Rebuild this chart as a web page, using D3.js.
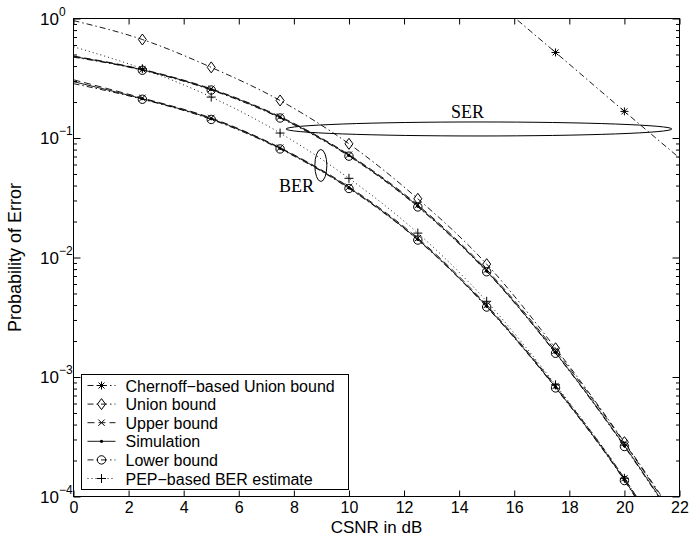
<!DOCTYPE html>
<html>
<head>
<meta charset="utf-8">
<script src="https://cdn.jsdelivr.net/npm/d3@7"></script>
<style>
  body { margin: 0; background: #fff; }
  svg { display: block; font-family: "Liberation Sans", Arial, sans-serif; }
  .tick line { stroke: #000; }
  .tick text { font-size: 16px; fill: #000; }
</style>
</head>
<body>
<svg id="chart" width="700" height="538"></svg>
<script>
const xs = [0, 2.5, 5, 7.5, 10, 12.5, 15, 17.5, 20, 22];
const markerXs = [2.5, 5, 7.5, 10, 12.5, 15, 17.5, 20];

// SER group
const unionBound   = [0.96, 0.667, 0.39, 0.206, 0.0894, 0.031, 0.0088, 0.00174, 0.000285, 0.00006];
const serUpper     = [0.485, 0.375, 0.258, 0.151, 0.0725, 0.0275, 0.0079, 0.00166, 0.000280, 0.000058];
const serSim       = [0.48, 0.372, 0.255, 0.149, 0.0714, 0.0269, 0.0077, 0.00160, 0.000267, 0.000055];
const serLower     = [0.475, 0.369, 0.252, 0.147, 0.0705, 0.0265, 0.0076, 0.00158, 0.000262, 0.000054];

// BER group
const berUpper     = [0.307, 0.216, 0.147, 0.083, 0.0390, 0.0145, 0.0040, 0.00084, 0.000142, 0.000026];
const berSim       = [0.296, 0.213, 0.145, 0.082, 0.0383, 0.01415, 0.0039, 0.00082, 0.000138, 0.000025];
const berLower     = [0.285, 0.211, 0.143, 0.081, 0.0378, 0.0140, 0.00385, 0.00081, 0.000136, 0.0000245];
const pepEstimate  = [0.58, 0.38, 0.22, 0.11, 0.046, 0.016, 0.0043, 0.00086, 0.000142, 0.000026];

// Chernoff-based union bound (only visible at high CSNR)
const chernoffXs   = [15, 17.5, 20, 22];
const chernoff     = [1.6, 0.52, 0.167, 0.068];

const xTicks = [0, 2, 4, 6, 8, 10, 12, 14, 16, 18, 20, 22];
const yDecades = [1e-4, 1e-3, 1e-2, 1e-1, 1];
const yExponents = ["−4", "−3", "−2", "−1", "0"];

const legendLabels = [
    "Chernoff−based Union bound",
    "Union bound",
    "Upper bound",
    "Simulation",
    "Lower bound",
    "PEP−based BER estimate"
];

const DASHDOT = "6,3,1.5,3";
const DASHED = "7,4";
const DOTTED = "1,3";

const svg = d3.select("#chart");
const mLeft = 73.5, mTop = 18.5, mRight = 679.5, mBottom = 496.5;
const iw = mRight - mLeft, ih = mBottom - mTop;

const x = d3.scaleLinear().domain([0, 22]).range([0, iw]);
const y = d3.scaleLog().domain([1e-4, 1]).range([ih, 0]);

const g = svg.append("g").attr("transform", `translate(${mLeft},${mTop})`);

g.append("defs").append("clipPath").attr("id", "plotClip")
    .append("rect").attr("width", iw).attr("height", ih);

// Axes: ticks pointing inward on all four sides
const xAxisB = d3.axisBottom(x).tickValues(xTicks).tickSizeInner(-6).tickSizeOuter(0).tickPadding(5)
    .tickFormat(d3.format("d"));
g.append("g").attr("transform", `translate(0,${ih})`).call(xAxisB)
    .call(a => a.select(".domain").remove());

g.append("g").call(d3.axisTop(x).tickValues(xTicks).tickSizeInner(-6).tickSizeOuter(0).tickFormat(""))
    .call(a => a.select(".domain").remove());

const minors = [];
yDecades.slice(0, -1).forEach(dec => {
    for (let k = 2; k <= 9; k++) minors.push(dec * k);
});

[["left", 0], ["right", iw]].forEach(([side, px]) => {
    const make = side === "left" ? d3.axisLeft : d3.axisRight;
    g.append("g").attr("transform", `translate(${px},0)`)
        .call(make(y).tickValues(yDecades).tickSizeInner(-7).tickSizeOuter(0).tickFormat(""))
        .call(a => a.select(".domain").remove());
    g.append("g").attr("transform", `translate(${px},0)`)
        .call(make(y).tickValues(minors).tickSizeInner(-3.5).tickSizeOuter(0).tickFormat(""))
        .call(a => a.select(".domain").remove());
});

// y tick labels as 10^n
const yLab = g.append("g");
yDecades.forEach((d, i) => {
    const t = yLab.append("text")
        .attr("x", -33.5)
        .attr("y", y(d) + 6)
        .attr("font-size", 17);
    t.append("tspan").text("10");
    t.append("tspan").attr("font-size", 12).attr("dy", -9).text(yExponents[i]);
});

// frame
g.append("rect").attr("width", iw).attr("height", ih)
    .attr("fill", "none").attr("stroke", "#000").attr("stroke-width", 1);

// Axis titles
svg.append("text").attr("x", mLeft + iw / 2).attr("y", 533)
    .attr("text-anchor", "middle").attr("font-size", 17).text("CSNR in dB");
svg.append("text").attr("transform", `translate(21,${mTop + ih / 2}) rotate(-90)`)
    .attr("text-anchor", "middle").attr("font-size", 18).text("Probability of Error");

// Curves
const plot = g.append("g").attr("clip-path", "url(#plotClip)");
const line = d3.line().x(d => x(d[0])).y(d => y(d[1])).curve(d3.curveMonotoneX);

function drawMarker(sel, type, cx, cy) {
    const m = sel.append("g").attr("transform", `translate(${cx},${cy})`)
        .attr("fill", "none").attr("stroke", "#000").attr("stroke-width", 1);
    if (type === "star") {
        m.append("path").attr("d", "M-4,0H4M0,-4V4M-3,-3L3,3M-3,3L3,-3");
    } else if (type === "diamond") {
        m.append("path").attr("d", "M0,-5.5L4,0L0,5.5L-4,0Z");
    } else if (type === "x") {
        m.append("path").attr("d", "M-3.2,-3.2L3.2,3.2M-3.2,3.2L3.2,-3.2");
    } else if (type === "dot") {
        m.append("circle").attr("r", 1.6).attr("fill", "#000").attr("stroke", "none");
    } else if (type === "circle") {
        m.append("circle").attr("r", 4.2);
    } else if (type === "plus") {
        m.append("path").attr("d", "M-4.5,0H4.5M0,-4.5V4.5");
    }
}

const seriesList = [
    { xs: xs, ys: unionBound, dash: DASHDOT, marker: "diamond" },
    { xs: xs, ys: serUpper, dash: DASHED, marker: "x" },
    { xs: xs, ys: serLower, dash: DASHDOT, marker: "circle" },
    { xs: xs, ys: serSim, dash: null, marker: "dot" },
    { xs: xs, ys: berUpper, dash: DASHED, marker: "x" },
    { xs: xs, ys: berLower, dash: DASHDOT, marker: "circle" },
    { xs: xs, ys: berSim, dash: null, marker: "dot" },
    { xs: xs, ys: pepEstimate, dash: DOTTED, marker: "plus" },
    { xs: chernoffXs, ys: chernoff, dash: DASHDOT, marker: "star" }
];

seriesList.forEach(s => {
    const pts = s.xs.map((v, i) => [v, s.ys[i]]);
    plot.append("path").datum(pts)
        .attr("d", line)
        .attr("fill", "none")
        .attr("stroke", "#000")
        .attr("stroke-width", 0.9)
        .attr("stroke-dasharray", s.dash);
    pts.filter(p => markerXs.includes(p[0]) && p[1] <= 1 && p[1] >= 1e-4)
        .forEach(p => drawMarker(plot, s.marker, x(p[0]), y(p[1])));
});

// Annotations
plot.append("ellipse")
    .attr("cx", x(14.72)).attr("cy", y(0.119))
    .attr("rx", x(7.0) - x(0)).attr("ry", 7)
    .attr("fill", "none").attr("stroke", "#000").attr("stroke-width", 1);
g.append("text").attr("x", x(14.3)).attr("y", y(0.148))
    .attr("text-anchor", "middle").attr("font-family", "'Liberation Serif', 'Times New Roman', serif")
    .attr("font-size", 18).text("SER");

plot.append("ellipse")
    .attr("cx", x(8.98)).attr("cy", y(0.0589))
    .attr("rx", 6).attr("ry", 16)
    .attr("fill", "none").attr("stroke", "#000").attr("stroke-width", 1);
g.append("text").attr("x", x(8.1)).attr("y", y(0.0352))
    .attr("text-anchor", "middle").attr("font-family", "'Liberation Serif', 'Times New Roman', serif")
    .attr("font-size", 18).text("BER");

// Legend
const legend = svg.append("g").attr("transform", "translate(81.5,374.5)");
legend.append("rect").attr("width", 267).attr("height", 115)
    .attr("fill", "#fff").attr("stroke", "#000").attr("stroke-width", 1);
const legendStyles = [
    { dash: DASHDOT, marker: "star" },
    { dash: DASHDOT, marker: "diamond" },
    { dash: DASHED, marker: "x" },
    { dash: null, marker: "dot" },
    { dash: DASHDOT, marker: "circle" },
    { dash: DOTTED, marker: "plus" }
];
legendLabels.forEach((label, i) => {
    const cy = 11 + i * 18.6;
    legend.append("line").attr("x1", 6).attr("x2", 34).attr("y1", cy).attr("y2", cy)
        .attr("stroke", "#000").attr("stroke-width", 0.9)
        .attr("stroke-dasharray", legendStyles[i].dash);
    drawMarker(legend, legendStyles[i].marker, 20, cy);
    legend.append("text").attr("x", 44).attr("y", cy + 6)
        .attr("font-size", 16).text(label);
});
</script>
</body>
</html>
